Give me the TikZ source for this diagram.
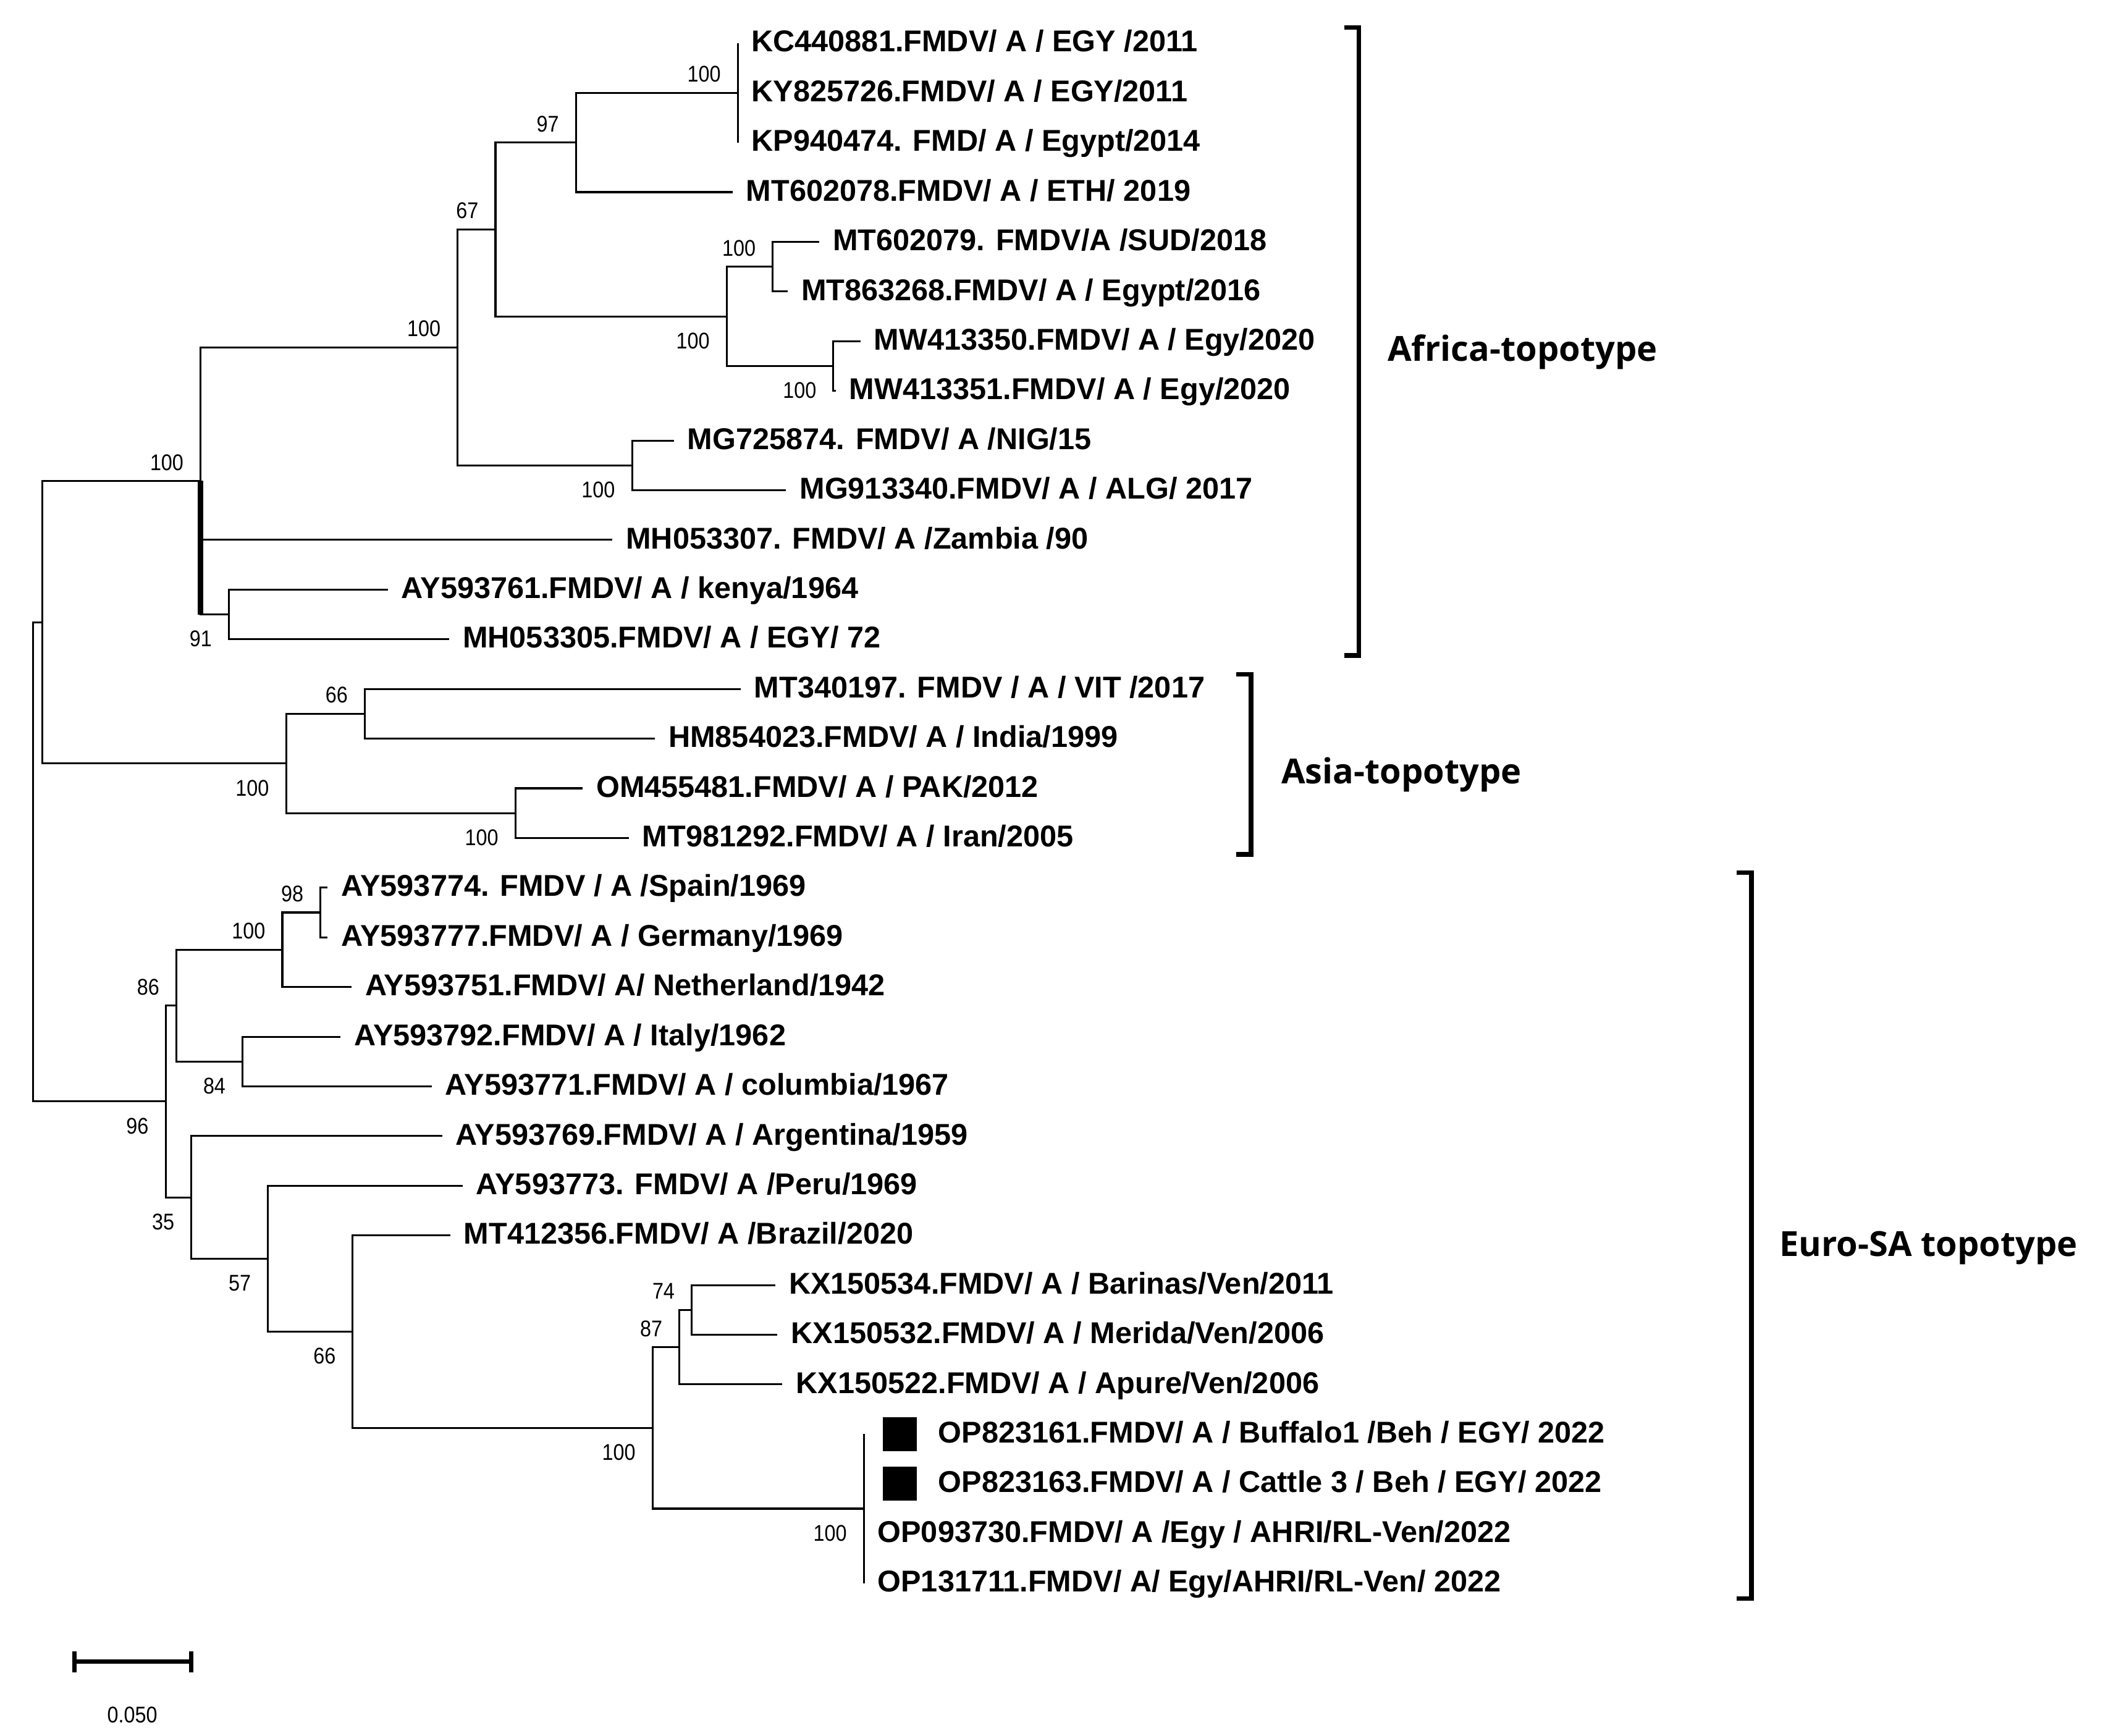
\documentclass[tikz,border=0pt]{standalone}
\usepackage{fontspec}
\setmainfont{Liberation Sans}
\newfontfamily\bsfont[FakeStretch=0.88]{Liberation Sans}
\newfontfamily\topofont{Open Sans}
\usetikzlibrary{positioning}

\tikzset{
  branch/.style={line width=0.4pt},
  leaflab/.style={anchor=base west, inner sep=0pt, xshift=0.095cm, yshift=-0.065cm,
    font=\fontsize{6.35}{7}\selectfont\bfseries},
  bsbase/.style={inner sep=0pt, font=\bsfont\fontsize{4.8}{5}\selectfont},
  bsup/.style={bsbase, anchor=base east, xshift=-0.12cm, yshift=0.08cm},
  bsdn/.style={bsbase, anchor=base east, xshift=-0.12cm, yshift=-0.24cm},
  sqmark/.style={fill=black, minimum size=0.253cm, inner sep=0pt},
  bracket/.style={line width=1pt},
  topolab/.style={anchor=base west, inner sep=0pt, font=\topofont\fontsize{7.3}{9}\selectfont\bfseries},
  scalebar/.style={line width=0.9pt}
}
% one taxon: name, end of branch (x,y), label
\newcommand{\taxon}[4]{%
  \coordinate (#1) at (#2,#3);
  \node[leaflab] (#1-t) at (#1) {#4};}

\begin{document}
\begin{tikzpicture}[x=0.01cm, y=-0.01cm]
\useasboundingbox (0,0) rectangle (1562,1289.4);

% internal nodes
\coordinate (root) at (24.6,640.1);
\coordinate (aa) at (31.6,462.1);
\coordinate (afr) at (149,357.2);
\coordinate (afr1) at (340,258.0);
\coordinate (n67) at (368,170.4);
\coordinate (n97) at (427.8,105.8);
\coordinate (egy11) at (548,68.9);
\coordinate (east) at (539.8,234.95);
\coordinate (sud) at (574,198.05);
\coordinate (mw) at (619,271.85);
\coordinate (wafr) at (469.5,345.65);
\coordinate (n91) at (170,456.35);
\coordinate (asia) at (212.5,567.05);
\coordinate (n66a) at (271,530.15);
\coordinate (iran) at (382.8,603.95);
\coordinate (euro) at (123,818.1);
\coordinate (n86) at (131,746.9);
\coordinate (n100e) at (209.7,705.4);
\coordinate (n98) at (238.1,677.75);
\coordinate (n84) at (180.2,788.45);
\coordinate (n35) at (142.2,889.35);
\coordinate (n57) at (199.1,934.9);
\coordinate (n66e) at (262,989.1);
\coordinate (ven) at (484.7,1060.6);
\coordinate (n87) at (504.7,1000.6);
\coordinate (n74) at (513.8,972.95);
\coordinate (egy22) at (641.7,1120.55);

% taxa
\taxon{kc440881}{548}{32}{KC440881.FMDV/ A / EGY /2011}
\taxon{ky825726}{548}{68.9}{KY825726.FMDV/ A / EGY/2011}
\taxon{kp940474}{548}{105.8}{KP940474. FMD/ A / Egypt/2014}
\taxon{mt602078}{544}{142.7}{MT602078.FMDV/ A / ETH/ 2019}
\taxon{mt602079}{608.4}{179.6}{MT602079. FMDV/A /SUD/2018}
\taxon{mt863268}{585}{216.5}{MT863268.FMDV/ A / Egypt/2016}
\taxon{mw413350}{639}{253.4}{MW413350.FMDV/ A / Egy/2020}
\taxon{mw413351}{620.7}{290.3}{MW413351.FMDV/ A / Egy/2020}
\taxon{mg725874}{500.5}{327.2}{MG725874. FMDV/ A /NIG/15}
\taxon{mg913340}{583.8}{364.1}{MG913340.FMDV/ A / ALG/ 2017}
\taxon{mh053307}{454.8}{401}{MH053307. FMDV/ A /Zambia /90}
\taxon{ay593761}{288}{437.9}{AY593761.FMDV/ A / kenya/1964}
\taxon{mh053305}{333.6}{474.8}{MH053305.FMDV/ A / EGY/ 72}
\taxon{mt340197}{550}{511.7}{MT340197. FMDV / A / VIT /2017}
\taxon{hm854023}{486.4}{548.6}{HM854023.FMDV/ A / India/1999}
\taxon{om455481}{432.7}{585.5}{OM455481.FMDV/ A / PAK/2012}
\taxon{mt981292}{467}{622.4}{MT981292.FMDV/ A / Iran/2005}
\taxon{ay593774}{243.4}{659.3}{AY593774. FMDV / A /Spain/1969}
\taxon{ay593777}{243.4}{696.2}{AY593777.FMDV/ A / Germany/1969}
\taxon{ay593751}{261}{733.1}{AY593751.FMDV/ A/ Netherland/1942}
\taxon{ay593792}{252.9}{770}{AY593792.FMDV/ A / Italy/1962}
\taxon{ay593771}{320.6}{806.9}{AY593771.FMDV/ A / columbia/1967}
\taxon{ay593769}{328.4}{843.8}{AY593769.FMDV/ A / Argentina/1959}
\taxon{ay593773}{343.5}{880.7}{AY593773. FMDV/ A /Peru/1969}
\taxon{mt412356}{334.3}{917.6}{MT412356.FMDV/ A /Brazil/2020}
\taxon{kx150534}{575.8}{954.5}{KX150534.FMDV/ A / Barinas/Ven/2011}
\taxon{kx150532}{577.4}{991.4}{KX150532.FMDV/ A / Merida/Ven/2006}
\taxon{kx150522}{581.1}{1028.3}{KX150522.FMDV/ A / Apure/Ven/2006}
\coordinate (op823161) at (641.7,1065.2);
\coordinate (op823163) at (641.7,1102.1);
\node[sqmark, right=0.133cm of op823161] (sq1) {};
\node[sqmark, right=0.133cm of op823163] (sq2) {};
\node[leaflab, xshift=0.45cm] (op823161-t) at (op823161) {OP823161.FMDV/ A / Buffalo1 /Beh / EGY/ 2022};
\node[leaflab, xshift=0.45cm] (op823163-t) at (op823163) {OP823163.FMDV/ A / Cattle 3 / Beh / EGY/ 2022};
\taxon{op093730}{641.7}{1139}{OP093730.FMDV/ A /Egy / AHRI/RL-Ven/2022}
\taxon{op131711}{641.7}{1175.9}{OP131711.FMDV/ A/ Egy/AHRI/RL-Ven/ 2022}

% branches
\foreach \p/\c in {root/aa, root/euro, aa/afr, aa/asia, afr/afr1, afr/mh053307, afr/n91,
    n91/ay593761, n91/mh053305, afr1/n67, afr1/wafr, n67/n97, n67/east,
    n97/egy11, n97/mt602078, egy11/kc440881, egy11/ky825726, egy11/kp940474,
    east/sud, east/mw, sud/mt602079, sud/mt863268, mw/mw413350, mw/mw413351,
    wafr/mg725874, wafr/mg913340, asia/n66a, asia/iran, n66a/mt340197, n66a/hm854023,
    iran/om455481, iran/mt981292, euro/n86, euro/n35, n86/n100e, n86/n84,
    n100e/n98, n100e/ay593751, n98/ay593774, n98/ay593777, n84/ay593792, n84/ay593771,
    n35/ay593769, n35/n57, n57/ay593773, n57/n66e, n66e/mt412356, n66e/ven,
    ven/n87, ven/egy22, n87/n74, n87/kx150522, n74/kx150534, n74/kx150532,
    egy22/op823161, egy22/op823163, egy22/op093730, egy22/op131711}
  \draw[branch] (\p) |- (\c);
\draw[line width=1.2pt] (afr) -- (afr |- n91);

% bootstrap values
\foreach \n/\v in {egy11/100, n97/97, n67/67, afr1/100, afr/100, sud/100, n66a/66,
    n98/98, n100e/100, n86/86, n87/87, n74/74}
  \node[bsup] (bs-\n) at (\n) {\v};
\foreach \n/\v in {east/100, mw/100, wafr/100, n91/91, asia/100, iran/100, n84/84,
    euro/96, n35/35, n57/57, n66e/66, ven/100, egy22/100}
  \node[bsdn] (bs-\n) at (\n) {\v};

% topotype brackets
\coordinate (afrT) at (1009.3,20.4);
\coordinate (afrB) at (1009.3,486.8);
\coordinate (asiT) at (929.2,500.8);
\coordinate (asiB) at (929.2,634.5);
\coordinate (eurT) at (1300.9,648.1);
\coordinate (eurB) at (1300.9,1187.3);
\foreach \t/\b in {afrT/afrB, asiT/asiB, eurT/eurB}
  \draw[bracket] ([xshift=-0.11cm]\t) -- (\t) -- (\b) -- ([xshift=-0.11cm]\b);
\node[topolab] (afrlab) at (1030,268) {Africa-topotype};
\node[topolab] (asilab) at (951,582) {Asia-topotype};
\node[topolab] (eurlab) at (1321,933) {Euro-SA topotype};

% scale bar
\coordinate (sbL) at (55.1,1234.3);
\coordinate (sbR) at (142.2,1234.3);
\draw[scalebar] (sbL) -- (sbR);
\draw[scalebar] ([yshift=0.078cm]sbL) -- ([yshift=-0.078cm]sbL);
\draw[scalebar] ([yshift=0.078cm]sbR) -- ([yshift=-0.078cm]sbR);
\node[bsbase, anchor=base] (sblab) at (98.3,1279.6) {0.050};
\end{tikzpicture}
\end{document}
